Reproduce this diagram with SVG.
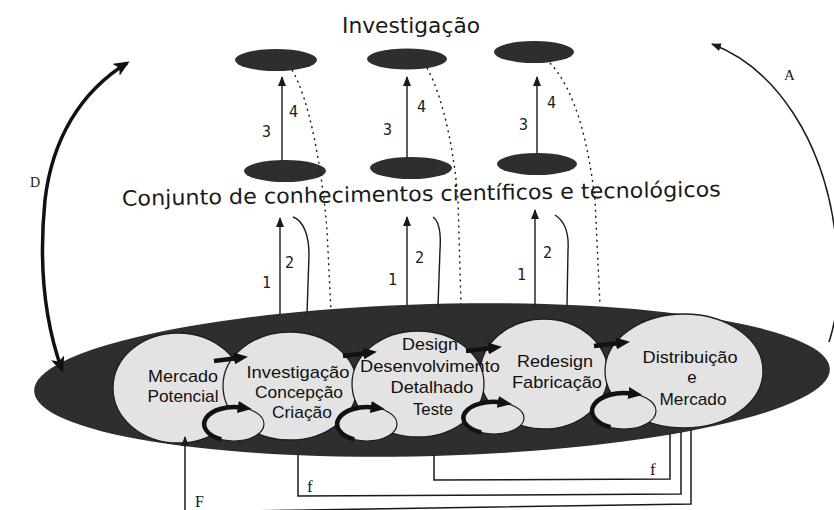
<svg xmlns="http://www.w3.org/2000/svg" width="834" height="510" viewBox="0 0 834 510">
<style>
.dark{fill:#2e2e2e}
.stage{fill:#e3e3e3;stroke:#1e1e1e;stroke-width:1.3}
.big{font-family:"DejaVu Sans",sans-serif;font-size:21px;fill:#1a1a1a}
.lbl{font-family:"Liberation Sans",Arial,sans-serif;font-size:17px;fill:#111;text-anchor:middle}
.num{font-family:"DejaVu Sans Mono",monospace;font-size:15px;fill:#1a1a1a}
.ser{font-family:"Liberation Serif",serif;fill:#1a1a1a}
.thin{fill:none;stroke:#1a1a1a;stroke-width:1.4}
.dot{fill:none;stroke:#1a1a1a;stroke-width:1.4;stroke-dasharray:2 4}
.fb{fill:none;stroke:#1a1a1a;stroke-width:1.5}
.thick{fill:none;stroke:#111;stroke-width:4.5}
.loopbg{fill:#e3e3e3;stroke:#1e1e1e;stroke-width:1.2}
</style>
<defs>
<marker id="ah" markerUnits="userSpaceOnUse" markerWidth="10" markerHeight="8" refX="9" refY="4" orient="auto-start-reverse"><path d="M0,0 L10,4 L0,8 z" fill="#1a1a1a"/></marker>
<marker id="ahT" markerUnits="userSpaceOnUse" markerWidth="14" markerHeight="12" refX="4" refY="6" orient="auto"><path d="M0,0 L14,6 L0,12 z" fill="#111"/></marker>
<marker id="ahD" markerUnits="userSpaceOnUse" markerWidth="16" markerHeight="14" refX="13" refY="7" orient="auto-start-reverse"><path d="M0,0 L16,7 L0,14 L4,7 z" fill="#111"/></marker>
</defs>

<g id="title-research"><text class="big" x="411" y="33" text-anchor="middle" textLength="138" lengthAdjust="spacingAndGlyphs">Investigação</text></g>

<g id="research-1"><ellipse class="dark" cx="276" cy="60" rx="41" ry="11"/></g>
<g id="research-2"><ellipse class="dark" cx="407" cy="59" rx="40" ry="10.5"/></g>
<g id="research-3"><ellipse class="dark" cx="534" cy="52" rx="40" ry="11"/></g>

<g id="knowledge-1"><ellipse class="dark" cx="285" cy="171" rx="41" ry="11"/></g>
<g id="knowledge-2"><ellipse class="dark" cx="411" cy="168" rx="41" ry="11"/></g>
<g id="knowledge-3"><ellipse class="dark" cx="537" cy="164" rx="40" ry="11"/></g>

<g id="knowledge-label"><text class="big" x="421.5" y="201" text-anchor="middle" textLength="599" lengthAdjust="spacingAndGlyphs" transform="rotate(-0.9 421.5 201)">Conjunto de conhecimentos científicos e tecnológicos</text></g>

<g id="chain"><ellipse class="dark" cx="432" cy="380" rx="398" ry="76" transform="rotate(-1.6 432 380)"/></g>

<g id="stage-1"><ellipse class="stage" cx="178" cy="388" rx="65" ry="55"/>
<text class="lbl" x="183" y="382" textLength="70" lengthAdjust="spacingAndGlyphs">Mercado</text>
<text class="lbl" x="183" y="402" textLength="71" lengthAdjust="spacingAndGlyphs">Potencial</text></g>
<g id="stage-2"><ellipse class="stage" cx="290" cy="386" rx="67" ry="54"/>
<text class="lbl" x="298" y="378" textLength="103" lengthAdjust="spacingAndGlyphs">Investigação</text>
<text class="lbl" x="299" y="398" textLength="88" lengthAdjust="spacingAndGlyphs">Concepção</text>
<text class="lbl" x="302" y="418" textLength="60" lengthAdjust="spacingAndGlyphs">Criação</text></g>
<g id="stage-4"><ellipse class="stage" cx="544" cy="374" rx="64" ry="55"/>
<text class="lbl" x="555" y="367" textLength="76" lengthAdjust="spacingAndGlyphs">Redesign</text>
<text class="lbl" x="557" y="388" textLength="90" lengthAdjust="spacingAndGlyphs">Fabricação</text></g>
<g id="stage-3"><ellipse class="stage" cx="418" cy="384" rx="66" ry="53"/>
<text class="lbl" x="430" y="350" textLength="56" lengthAdjust="spacingAndGlyphs">Design</text>
<text class="lbl" x="430" y="372" textLength="140" lengthAdjust="spacingAndGlyphs">Desenvolvimento</text>
<text class="lbl" x="432" y="393" textLength="83" lengthAdjust="spacingAndGlyphs">Detalhado</text>
<text class="lbl" x="433" y="415" textLength="40" lengthAdjust="spacingAndGlyphs">Teste</text></g>
<g id="stage-5"><ellipse class="stage" cx="684" cy="371" rx="79" ry="57"/>
<text class="lbl" x="690" y="363" textLength="95" lengthAdjust="spacingAndGlyphs">Distribuição</text>
<text class="lbl" x="692" y="383">e</text>
<text class="lbl" x="693" y="405" textLength="67" lengthAdjust="spacingAndGlyphs">Mercado</text></g>

<g id="connectors">
<!-- 3: knowledge to research -->
<path class="thin" d="M282,161 L282,77" marker-end="url(#ah)"/>
<path class="thin" d="M407,158 L407,77" marker-end="url(#ah)"/>
<path class="thin" d="M537,153 L537,77" marker-end="url(#ah)"/>
<!-- 4: research back -->
<path class="dot" d="M292,70 C310,100 322,170 327,230 L331,312"/>
<path class="dot" d="M427,68 C445,100 455,160 458,200 L461,305"/>
<path class="dot" d="M550,63 C575,90 588,140 595,200 L600,305"/>
<!-- 1: chain to knowledge -->
<path class="thin" d="M280,314 L280,218" marker-end="url(#ah)"/>
<path class="thin" d="M407,305 L407,217" marker-end="url(#ah)"/>
<path class="thin" d="M535,306 L535,210" marker-end="url(#ah)"/>
<!-- 2: knowledge back -->
<path class="thin" d="M293,217 C304,221 309,236 309,255 L307,314"/>
<path class="thin" d="M433,217 C440,222 441,235 440,250 L438,306"/>
<path class="thin" d="M555,215 C566,222 569,235 568,250 L567,306"/>
<!-- chain arrows -->
<path class="thick" d="M214,361 L238,358" marker-end="url(#ahT)"/>
<path class="thick" d="M343,356 L367,353" marker-end="url(#ahT)"/>
<path class="thick" d="M466,351 L492,348" marker-end="url(#ahT)"/>
<path class="thick" d="M594,346 L620,343" marker-end="url(#ahT)"/>
<!-- local feedback loops -->
<ellipse class="loopbg" cx="234" cy="424" rx="30" ry="17"/>
<path class="thick" d="M221.3,439.4 A30,17 0 0 1 241.8,407.6" marker-end="url(#ahT)"/>
<ellipse class="loopbg" cx="367" cy="424" rx="30" ry="17"/>
<path class="thick" d="M354.3,439.4 A30,17 0 0 1 374.8,407.6" marker-end="url(#ahT)"/>
<ellipse class="loopbg" cx="494" cy="418" rx="30" ry="16"/>
<path class="thick" d="M481.3,432.5 A30,16 0 0 1 501.8,402.5" marker-end="url(#ahT)"/>
<ellipse class="loopbg" cx="624" cy="411" rx="32" ry="18"/>
<path class="thick" d="M610.5,427.3 A32,18 0 0 1 632.3,393.6" marker-end="url(#ahT)"/>
<!-- f feedback -->
<path class="fb" d="M298,455 L298,496 L681,494 L681,432"/>
<path class="fb" d="M434,455 L434,480 L670,479 L670,434"/>
<!-- F feedback -->
<path class="fb" d="M691,430 L691,504 L180,512"/>
<path class="fb" d="M185,512 L185,437" marker-end="url(#ah)"/>
<!-- D and A -->
<path fill="none" stroke="#111" stroke-width="3.5" d="M127,63 C80,92 52,140 45,200 C39,260 44,320 62,370" marker-start="url(#ahD)" marker-end="url(#ahD)"/>
<path class="fb" stroke-width="1.8" d="M712,44 C775,68 825,140 836,240 C842,290 836,320 829,342" marker-start="url(#ah)"/>
</g>

<g id="labels">
<text class="num" x="262" y="137">3</text><text class="num" x="289" y="117">4</text>
<text class="num" x="262" y="288">1</text><text class="num" x="285" y="268">2</text>
<text class="num" x="383" y="135">3</text><text class="num" x="417" y="112">4</text>
<text class="num" x="388" y="285">1</text><text class="num" x="415" y="263">2</text>
<text class="num" x="519" y="130">3</text><text class="num" x="547" y="108">4</text>
<text class="num" x="517" y="280">1</text><text class="num" x="543" y="258">2</text>
<text class="ser" x="307" y="492" font-size="17">f</text>
<text class="ser" x="650" y="475" font-size="17">f</text>
<text class="ser" x="195" y="507" font-size="16">F</text>
<text class="ser" x="30" y="187" font-size="14">D</text>
<text class="ser" x="784" y="80" font-size="15">A</text>
</g>
</svg>
